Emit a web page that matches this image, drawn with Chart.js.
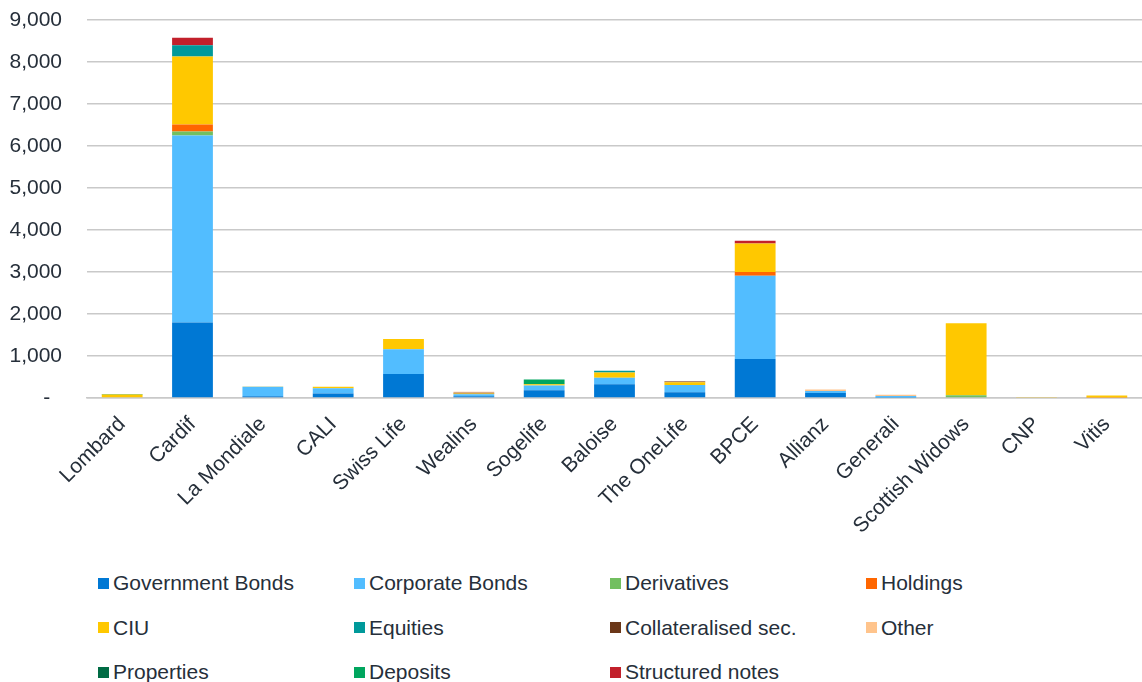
<!DOCTYPE html>
<html>
<head>
<meta charset="utf-8">
<script src="https://cdn.jsdelivr.net/npm/chart.js@4/dist/chart.umd.min.js"></script>
<style>
  html, body { margin: 0; padding: 0; background: #fff; }
  body { width: 1142px; height: 682px; position: relative; overflow: hidden; font-family: "Liberation Sans", Arial, sans-serif; }
  #wrap { position: absolute; left: 0; top: 0; width: 1142px; height: 560px; }
  #legend { position: absolute; left: 98px; top: 568px; display: grid; grid-template-columns: 256px 256px 256px 256px; grid-auto-rows: 44.5px; }
  .item { display: flex; align-items: center; height: 30px; font-size: 21px; color: #262f3a; white-space: nowrap; }
  .sw { width: 11px; height: 11px; margin-right: 4px; flex: none; }
</style>
</head>
<body>
<div id="wrap"><canvas id="c"></canvas></div>
<div id="legend"></div>
<script>
const categories = ['Lombard','Cardif','La Mondiale','CALI','Swiss Life','Wealins','Sogelife','Baloise','The OneLife','BPCE','Allianz','Generali','Scottish Widows','CNP','Vitis'];
const seriesNames = ['Government Bonds','Corporate Bonds','Derivatives','Holdings','CIU','Equities','Collateralised sec.','Other','Properties','Deposits','Structured notes'];
const governmentBonds = [0,1800,40,105,570,40,185,330,135,930,120,10,0,0,0];
const corporateBonds  = [0,4450,225,125,590,50,110,150,175,1980,48,40,0,0,0];
const derivatives     = [0,95,0,0,0,0,0,0,0,0,0,0,65,0,0];
const holdings        = [0,165,0,0,0,0,0,0,0,90,0,0,0,0,10];
const ciu             = [85,1620,10,40,245,20,30,130,65,680,0,0,1715,10,50];
const equities        = [0,270,0,0,0,0,5,40,0,0,0,0,0,0,0];
const collateralised  = [0,0,0,0,0,15,0,0,15,0,0,0,0,0,0];
const other           = [0,0,0,0,0,25,0,0,15,0,32,30,0,0,0];
const properties      = [0,0,0,0,0,0,0,0,0,0,0,0,0,0,0];
const deposits        = [8,0,0,0,0,0,110,0,0,0,0,0,0,0,0];
const structuredNotes = [0,175,0,0,0,0,0,0,0,65,0,0,0,0,0];
const yTicks = [0,1000,2000,3000,4000,5000,6000,7000,8000,9000];
const yTickLabels = ['-\u2007','1,000','2,000','3,000','4,000','5,000','6,000','7,000','8,000','9,000'];

const seriesValues = [governmentBonds, corporateBonds, derivatives, holdings, ciu, equities, collateralised, other, properties, deposits, structuredNotes];
const colors = ['#0078D4','#52BDFF','#72BF60','#FF6600','#FFC800','#00999A','#6B3718','#FFC48C','#006B44','#00A65E','#C2202B'];

const datasets = seriesNames.map((n, i) => ({
  label: n, data: seriesValues[i], backgroundColor: colors[i],
  borderWidth: 0, barPercentage: 0.58, categoryPercentage: 1.0
}));

const textColor = '#262f3a';
const font = { family: '"Liberation Sans", Arial, sans-serif', size: 21 };

// pin the plot area to the reference's frame
const pinArea = {
  id: 'pinArea',
  afterLayout(chart) {
    const ca = chart.chartArea;
    const top = 20, bottom = 398;
    ca.top = top; ca.bottom = bottom; ca.height = bottom - top;
    const y = chart.scales.y;
    y.top = top; y.bottom = bottom; y.height = bottom - top;
    y.configure();
    chart.scales.x.top = bottom;
  }
};

new Chart(document.getElementById('c'), {
  type: 'bar',
  data: { labels: categories, datasets },
  plugins: [pinArea],
  options: {
    responsive: true, maintainAspectRatio: false, animation: false,
    layout: { autoPadding: false, padding: { top: 0, right: 0, bottom: 0, left: 0 } },
    plugins: { legend: { display: false }, tooltip: { enabled: false } },
    scales: {
      x: {
        stacked: true,
        grid: { display: false, drawTicks: false },
        border: { display: true, color: '#c9c9c9', width: 1.5 },
        ticks: { color: textColor, font, minRotation: 45, maxRotation: 45, padding: 14, autoSkip: false },
        afterFit: s => { s.height = 162; }
      },
      y: {
        stacked: true, min: 0, max: 9000,
        afterBuildTicks: s => { s.ticks = yTicks.map(v => ({ value: v })); },
        grid: { color: '#c9c9c9', lineWidth: 1.5, drawTicks: false },
        border: { display: false },
        ticks: {
          color: textColor, font, padding: 25,
          callback: (v, i) => yTickLabels[i]
        },
        afterFit: s => { s.width = 87; }
      }
    }
  }
});

const lg = document.getElementById('legend');
seriesNames.forEach((n, i) => {
  const d = document.createElement('div');
  d.className = 'item';
  d.innerHTML = '<span class="sw" style="background:' + colors[i] + '"></span><span></span>';
  d.lastChild.textContent = n;
  lg.appendChild(d);
});
</script>
</body>
</html>
